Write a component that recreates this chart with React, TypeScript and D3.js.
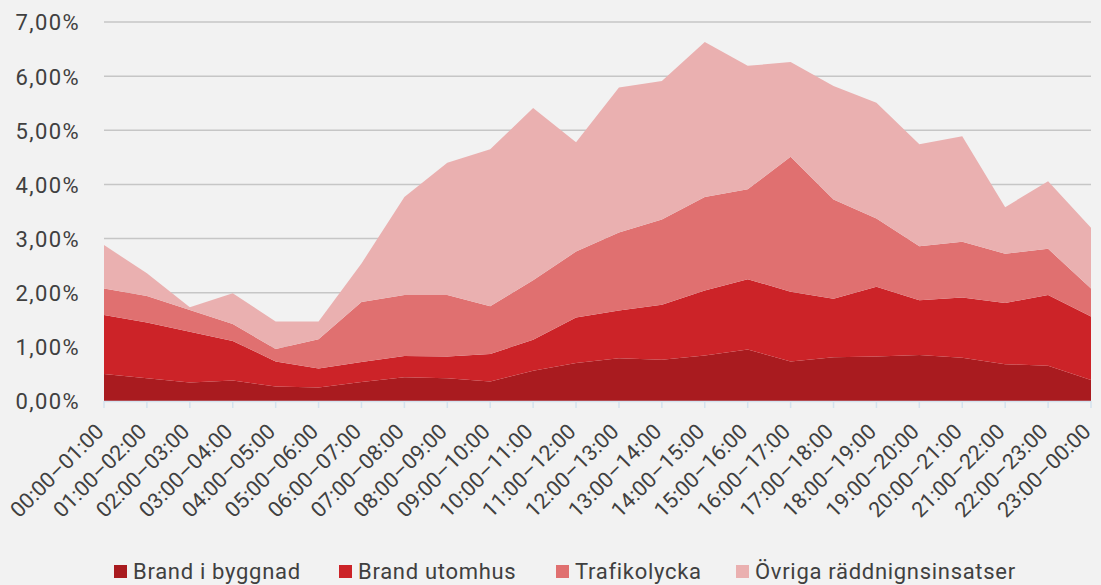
import React from "react";
import * as d3 from "d3";

const categories = [
  "00:00–01:00", "01:00–02:00", "02:00–03:00", "03:00–04:00", "04:00–05:00", "05:00–06:00",
  "06:00–07:00", "07:00–08:00", "08:00–09:00", "09:00–10:00", "10:00–11:00", "11:00–12:00",
  "12:00–13:00", "13:00–14:00", "14:00–15:00", "15:00–16:00", "16:00–17:00", "17:00–18:00",
  "18:00–19:00", "19:00–20:00", "20:00–21:00", "21:00–22:00", "22:00–23:00", "23:00–00:00",
];

const brandIByggnad = [0.50, 0.42, 0.34, 0.38, 0.27, 0.25, 0.35, 0.44, 0.42, 0.36, 0.56, 0.70, 0.79, 0.76, 0.84, 0.95, 0.73, 0.81, 0.82, 0.85, 0.80, 0.68, 0.65, 0.39];
const brandUtomhus = [1.09, 1.03, 0.94, 0.73, 0.46, 0.35, 0.37, 0.39, 0.40, 0.51, 0.57, 0.84, 0.88, 1.02, 1.20, 1.30, 1.29, 1.08, 1.29, 1.01, 1.11, 1.13, 1.31, 1.17];
const trafikolycka = [0.49, 0.49, 0.40, 0.31, 0.23, 0.54, 1.11, 1.13, 1.14, 0.88, 1.10, 1.22, 1.44, 1.57, 1.73, 1.66, 2.49, 1.83, 1.26, 1.00, 1.03, 0.91, 0.85, 0.52];
const ovriga = [0.80, 0.42, 0.05, 0.57, 0.51, 0.33, 0.71, 1.81, 2.44, 2.90, 3.18, 2.02, 2.68, 2.56, 2.86, 2.28, 1.75, 2.10, 2.14, 1.88, 1.95, 0.86, 1.25, 1.12];

const seriesNames = ["Brand i byggnad", "Brand utomhus", "Trafikolycka", "Övriga räddnignsinsatser"];
const seriesColors = ["#A91B1F", "#CC2328", "#E07070", "#EAB0B0"];
const yTicks = [0, 1, 2, 3, 4, 5, 6, 7];

const W = 1101;
const H = 585;
const FONT = "Roboto, 'DejaVu Sans', sans-serif";

export default function App() {
  const seriesValues = [brandIByggnad, brandUtomhus, trafikolycka, ovriga];
  const rows = categories.map((c, i) => {
    const r: any = { cat: c };
    seriesNames.forEach((n, k) => (r[n] = seriesValues[k][i]));
    return r;
  });
  const stacked = d3.stack().keys(seriesNames)(rows);

  const x = d3.scalePoint<string>().domain(categories).range([104, 1091]);
  const y = d3.scaleLinear().domain([0, 7]).range([401, 22]);

  const area = d3
    .area<any>()
    .x((d) => x(d.data.cat) as number)
    .y0((d) => y(d[0]))
    .y1((d) => y(d[1]));

  const fmt = (v: number) => v.toFixed(2).replace(".", ",") + "%";

  const legendX = [114, 339, 556, 736];

  return (
    <svg
      width={W}
      height={H}
      style={{ position: "absolute", left: 0, top: 0, display: "block" }}
      fontFamily={FONT}
    >
      <rect x={0} y={0} width={W} height={H} fill="#F2F2F2" />
      {yTicks.filter((t) => t > 0).map((t) => (
        <line key={t} x1={104} x2={1091} y1={y(t)} y2={y(t)} stroke="#C6C6C6" strokeWidth={1.5} />
      ))}
      {stacked.map((s, k) => (
        <path key={k} d={area(s as any) || ""} fill={seriesColors[k]} />
      ))}
      <line x1={104} x2={1091} y1={401.5} y2={401.5} stroke="#D3E2EE" strokeWidth={1.5} />
      {categories.map((c) => (
        <line key={c} x1={x(c)} x2={x(c)} y1={401} y2={408} stroke="#D3E2EE" strokeWidth={1.5} />
      ))}
      {yTicks.map((t) => (
        <text
          key={t}
          x={80}
          y={y(t)}
          dy="0.38em"
          textAnchor="end"
          fontSize={22}
          letterSpacing={1.4}
          fill="#404040"
        >
          {fmt(t)}
        </text>
      ))}
      {categories.map((c) => (
        <text
          key={c}
          transform={`translate(${(x(c) as number) + 1},${433}) rotate(-45)`}
          textAnchor="end"
          fontSize={21.5}
          letterSpacing={0}
          fill="#404040"
        >
          {c}
        </text>
      ))}
      {seriesNames.map((n, k) => (
        <g key={n}>
          <rect x={legendX[k]} y={565} width={13} height={13} fill={seriesColors[k]} />
          <text x={legendX[k] + 19} y={579} fontSize={22} letterSpacing={0.7} fill="#404040">
            {n}
          </text>
        </g>
      ))}
    </svg>
  );
}
